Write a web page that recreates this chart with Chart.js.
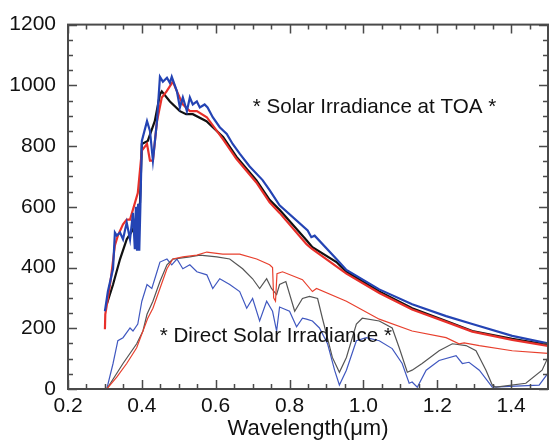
<!DOCTYPE html>
<html>
<head>
<meta charset="utf-8">
<script src="https://cdn.jsdelivr.net/npm/chart.js@4.4.1/dist/chart.umd.min.js"></script>
<style>
    html, body { margin: 0; padding: 0; background: #fff; }
    #wrap { width: 549px; height: 443px; position: relative; }
</style>
</head>
<body>
<div id="wrap"><canvas id="grafico"></canvas></div>
<script>
// Solar irradiance at top of atmosphere (thick lines)
var toaPretoX = [0.305, 0.322, 0.341, 0.359, 0.376, 0.386, 0.395, 0.400, 0.416, 0.435, 0.449, 0.454, 0.476, 0.503, 0.520, 0.538, 0.575, 0.620, 0.656, 0.710, 0.746, 0.773, 0.846, 0.862, 0.927, 0.954, 1.043, 1.132, 1.224, 1.295, 1.403, 1.500];
var toaPretoY = [279, 344, 428, 493, 525, 570, 613, 807, 817, 882, 970, 980, 947, 915, 905, 905, 882, 830, 765, 688, 623, 590, 490, 467, 418, 386, 321, 266, 224, 191, 165, 145];

var toaVermelhoX = [0.300, 0.301, 0.308, 0.316, 0.327, 0.335, 0.349, 0.359, 0.368, 0.389, 0.400, 0.414, 0.422, 0.430, 0.441, 0.454, 0.467, 0.484, 0.495, 0.511, 0.530, 0.549, 0.576, 0.620, 0.656, 0.710, 0.746, 0.773, 0.846, 0.860, 0.954, 1.043, 1.132, 1.224, 1.295, 1.403, 1.500];
var toaVermelhoY = [197, 246, 298, 363, 473, 505, 542, 558, 558, 645, 785, 807, 752, 752, 882, 960, 980, 1012, 980, 937, 915, 915, 895, 822, 758, 680, 615, 580, 477, 462, 380, 316, 262, 221, 189, 162, 142];

var toaAzulX = [0.300, 0.308, 0.322, 0.327, 0.332, 0.341, 0.349, 0.359, 0.368, 0.376, 0.381, 0.384, 0.387, 0.390, 0.393, 0.396, 0.400, 0.414, 0.422, 0.430, 0.441, 0.449, 0.457, 0.468, 0.476, 0.481, 0.495, 0.503, 0.511, 0.522, 0.530, 0.538, 0.549, 0.557, 0.570, 0.578, 0.592, 0.611, 0.630, 0.646, 0.665, 0.692, 0.727, 0.746, 0.773, 0.849, 0.859, 0.868, 0.927, 0.954, 1.043, 1.132, 1.224, 1.295, 1.403, 1.500];
var toaAzulY = [256, 321, 396, 515, 505, 515, 493, 548, 493, 580, 460, 600, 455, 610, 455, 600, 817, 882, 850, 752, 882, 1028, 1012, 1025, 1008, 1028, 980, 927, 960, 915, 960, 937, 947, 927, 937, 927, 895, 862, 840, 807, 775, 733, 688, 655, 605, 522, 500, 505, 428, 392, 328, 279, 240, 214, 175, 150];

// Direct solar irradiance (thin lines)
var dirVermelhoX = [0.305, 0.332, 0.359, 0.386, 0.403, 0.416, 0.430, 0.449, 0.468, 0.484, 0.511, 0.549, 0.576, 0.619, 0.665, 0.711, 0.746, 0.754, 0.757, 0.762, 0.766, 0.781, 0.835, 0.862, 0.873, 0.954, 1.043, 1.132, 1.224, 1.259, 1.273, 1.314, 1.403, 1.500];
var dirVermelhoY = [0, 39, 84, 136, 191, 233, 266, 331, 396, 428, 435, 441, 451, 444, 444, 428, 409, 400, 300, 289, 380, 386, 360, 321, 331, 289, 230, 191, 169, 149, 152, 143, 126, 117];

var dirPretoX = [0.305, 0.349, 0.386, 0.403, 0.414, 0.430, 0.449, 0.468, 0.484, 0.530, 0.557, 0.603, 0.638, 0.673, 0.700, 0.719, 0.738, 0.751, 0.765, 0.773, 0.790, 0.814, 0.835, 0.854, 0.876, 0.889, 0.916, 0.935, 0.954, 0.981, 0.997, 1.043, 1.078, 1.097, 1.119, 1.132, 1.159, 1.205, 1.241, 1.278, 1.305, 1.332, 1.349, 1.359, 1.440, 1.484, 1.500];
var dirPretoY = [0, 84, 149, 191, 246, 289, 354, 409, 428, 435, 441, 435, 428, 396, 363, 331, 363, 331, 311, 344, 354, 256, 298, 305, 298, 233, 104, 55, 104, 214, 233, 224, 201, 136, 55, 62, 84, 126, 149, 143, 126, 62, 13, 6, 19, 62, 104];

var dirAzulX = [0.305, 0.322, 0.335, 0.349, 0.368, 0.376, 0.389, 0.400, 0.414, 0.427, 0.441, 0.449, 0.468, 0.481, 0.495, 0.511, 0.530, 0.549, 0.576, 0.592, 0.611, 0.638, 0.665, 0.684, 0.700, 0.719, 0.738, 0.754, 0.765, 0.773, 0.800, 0.819, 0.835, 0.846, 0.862, 0.881, 0.903, 0.922, 0.935, 0.954, 0.981, 1.008, 1.043, 1.078, 1.105, 1.124, 1.132, 1.146, 1.170, 1.205, 1.251, 1.268, 1.286, 1.314, 1.349, 1.476, 1.500];
var dirAzulY = [0, 84, 159, 169, 201, 191, 214, 289, 344, 331, 386, 418, 428, 409, 428, 396, 409, 386, 376, 331, 363, 344, 321, 266, 298, 224, 289, 256, 191, 270, 256, 205, 233, 230, 224, 201, 149, 62, 13, 62, 159, 169, 159, 133, 84, 19, 23, 6, 62, 94, 110, 84, 88, 62, 6, 13, 52];

var ticksY = [0, 200, 400, 600, 800, 1000, 1200];
var ticksX = [0.2, 0.4, 0.6, 0.8, 1.0, 1.2, 1.4];

var textoTOA = '* Solar Irradiance at TOA *';
var textoDireta = '* Direct Solar Irradiance *';

var fonte = '"Liberation Sans", Arial, Helvetica, sans-serif';

function pares(xs, ys) {
    return xs.map(function (x, i) { return { x: x, y: ys[i] }; });
}

function serie(label, xs, ys, cor, largura) {
    return {
        label: label,
        data: pares(xs, ys),
        borderColor: cor,
        backgroundColor: cor,
        borderWidth: largura,
        pointRadius: 0,
        tension: 0,
        fill: false,
    };
}

// frame with inward ticks on all four sides
var moldura = {
    id: 'moldura',
    afterDatasetsDraw: function (chart) {
        var ctx = chart.ctx;
        var a = chart.chartArea;
        var sx = chart.scales.x, sy = chart.scales.y;
        ctx.save();
        ctx.strokeStyle = '#4a4a4a';
        ctx.lineWidth = 1.5;
        var i, p, len;
        for (i = 0; i <= 26; i++) {
            var vx = 0.2 + i * 0.05;
            p = Math.round(sx.getPixelForValue(vx)) + 0.5;
            len = (i % 4 === 0) ? 9 : 5;
            ctx.beginPath();
            ctx.moveTo(p, a.bottom); ctx.lineTo(p, a.bottom - len);
            ctx.moveTo(p, a.top); ctx.lineTo(p, a.top + len);
            ctx.stroke();
        }
        for (i = 0; i <= 24; i++) {
            var vy = i * 50;
            p = Math.round(sy.getPixelForValue(vy)) + 0.5;
            len = (i % 4 === 0) ? 9 : 5;
            ctx.beginPath();
            ctx.moveTo(a.left, p); ctx.lineTo(a.left + len, p);
            ctx.moveTo(a.right, p); ctx.lineTo(a.right - len, p);
            ctx.stroke();
        }
        ctx.lineWidth = 2;
        ctx.strokeRect(a.left, a.top, a.right - a.left, a.bottom - a.top);

        ctx.fillStyle = '#111';
        ctx.font = '20.6px ' + fonte;
        ctx.textAlign = 'center';
        ctx.textBaseline = 'middle';
        ctx.fillText(textoTOA, sx.getPixelForValue(1.03), sy.getPixelForValue(927));
        ctx.fillText(textoDireta, sx.getPixelForValue(0.763), sy.getPixelForValue(175));
        ctx.restore();
    }
};

var ctx = document.getElementById('grafico').getContext('2d');
var grafico = new Chart(ctx, {
    type: 'line',
    data: {
        datasets: [
            serie('Direct red', dirVermelhoX, dirVermelhoY, '#e8402e', 1.2),
            serie('Direct black', dirPretoX, dirPretoY, '#555555', 1.2),
            serie('Direct blue', dirAzulX, dirAzulY, '#4058c0', 1.2),
            serie('TOA blue', toaAzulX, toaAzulY, '#2444b4', 2.2),
            serie('TOA red', toaVermelhoX, toaVermelhoY, '#e8302a', 2.2),
            serie('TOA black', toaPretoX, toaPretoY, '#111111', 2.2),
        ],
    },
    options: {
        responsive: true,
        maintainAspectRatio: false,
        animation: false,
        layout: { padding: { left: 0, top: 19, right: 1, bottom: 0 } },
        plugins: {
            legend: { display: false },
            tooltip: { enabled: false },
        },
        scales: {
            x: {
                type: 'linear',
                min: 0.2,
                max: 1.5,
                afterFit: function (s) { s.height = 54; },
                afterBuildTicks: function (s) {
                    s.ticks = ticksX.map(function (v) { return { value: v }; });
                },
                ticks: {
                    color: '#111',
                    padding: 5,
                    maxRotation: 0,
                    autoSkip: false,
                    font: { size: 21, family: fonte },
                    callback: function (v) { return Number(v).toFixed(1); },
                },
                grid: { display: false, drawTicks: false },
                border: { display: false },
                title: {
                    display: true,
                    text: 'Wavelength(\u03bcm)',
                    color: '#111',
                    padding: { top: 1, bottom: 1 },
                    font: { size: 22, family: fonte },
                },
            },
            y: {
                min: 0,
                max: 1200,
                afterFit: function (s) { s.width = 68; },
                afterBuildTicks: function (s) {
                    s.ticks = ticksY.map(function (v) { return { value: v }; });
                },
                ticks: {
                    color: '#111',
                    padding: 12,
                    autoSkip: false,
                    font: { size: 21, family: fonte },
                    callback: function (v) { return String(v); },
                },
                grid: { display: false, drawTicks: false },
                border: { display: false },
            },
        },
    },
    plugins: [moldura],
});
</script>
</body>
</html>
